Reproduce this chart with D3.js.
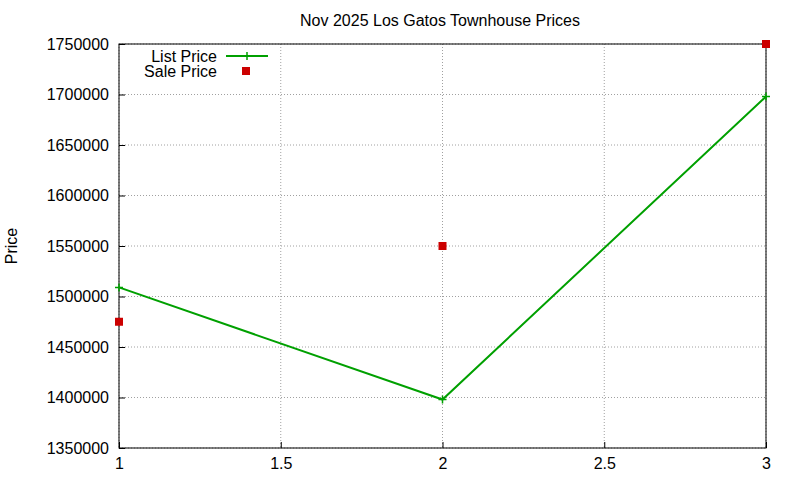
<!DOCTYPE html>
<html><head><meta charset="utf-8">
<script src="https://cdn.jsdelivr.net/npm/d3@7"></script>
<style>body{margin:0;background:#fff}text{font-family:"Liberation Sans",Arial,sans-serif;font-size:16px}</style>
</head><body><svg id="c" width="800" height="480"></svg>
<script>
const xs = [1, 2, 3];
const listPrice = [1509000, 1398000, 1698000];
const salePrice = [1475000, 1550000, 1750000];
const xTicks = [1, 1.5, 2, 2.5, 3];
const yTicks = [1350000,1400000,1450000,1500000,1550000,1600000,1650000,1700000,1750000];
const svg = d3.select("#c");
const L=119,R=766,T=44,B=448;
const x = d3.scaleLinear().domain([1,3]).range([L,R]);
const y = d3.scaleLinear().domain([1350000,1750000]).range([B,T]);
const g = svg.append("g");
yTicks.forEach(v=>g.append("line").attr("x1",L).attr("x2",R).attr("y1",y(v)).attr("y2",y(v)).attr("stroke","#a0a0a0").attr("stroke-dasharray","1,2"));
xTicks.forEach(v=>g.append("line").attr("y1",T).attr("y2",B).attr("x1",x(v)).attr("x2",x(v)).attr("stroke","#a0a0a0").attr("stroke-dasharray","1,2"));
const ax = svg.append("g").attr("transform",`translate(0,${B})`).call(d3.axisBottom(x).tickValues(xTicks).tickSize(-6).tickPadding(10).tickFormat(d=>d));
const ay = svg.append("g").attr("transform",`translate(${L},0)`).call(d3.axisLeft(y).tickValues(yTicks).tickSize(-6).tickPadding(10).tickFormat(d=>d));
[ax,ay].forEach(a=>{a.select(".domain").remove();a.selectAll("text").style("font-size","16px").style("font-family","Liberation Sans, Arial, sans-serif").attr("fill","#000");a.selectAll("line").attr("stroke","#000");});
svg.append("rect").attr("x",L).attr("y",T).attr("width",R-L).attr("height",B-T).attr("fill","none").attr("stroke","#000");
svg.append("text").attr("x",440).attr("y",26).attr("text-anchor","middle").text("Nov 2025 Los Gatos Townhouse Prices");
svg.append("text").attr("transform","translate(17,246) rotate(-90)").attr("text-anchor","middle").text("Price");
const col="#00a000";
svg.append("path").datum(xs.map((d,i)=>[d,listPrice[i]])).attr("d",d3.line().x(d=>x(d[0])).y(d=>y(d[1]))).attr("fill","none").attr("stroke",col).attr("stroke-width",2);
const plus=(cx,cy)=>svg.append("path").attr("d",`M${cx-4},${cy}H${cx+4}M${cx},${cy-4}V${cy+4}`).attr("stroke",col).attr("stroke-width",1.5);
xs.forEach((d,i)=>plus(x(d),y(listPrice[i])));
const red="#cc0000";
xs.forEach((d,i)=>svg.append("rect").attr("x",x(d)-4).attr("y",y(salePrice[i])-4).attr("width",8).attr("height",8).attr("fill",red));
svg.append("text").attr("x",217).attr("y",62).attr("text-anchor","end").text("List Price");
svg.append("line").attr("x1",226).attr("x2",268).attr("y1",56).attr("y2",56).attr("stroke",col).attr("stroke-width",2);
plus(247,56);
svg.append("text").attr("x",217).attr("y",77).attr("text-anchor","end").text("Sale Price");
svg.append("rect").attr("x",242).attr("y",67).attr("width",8).attr("height",8).attr("fill",red);
</script></body></html>
